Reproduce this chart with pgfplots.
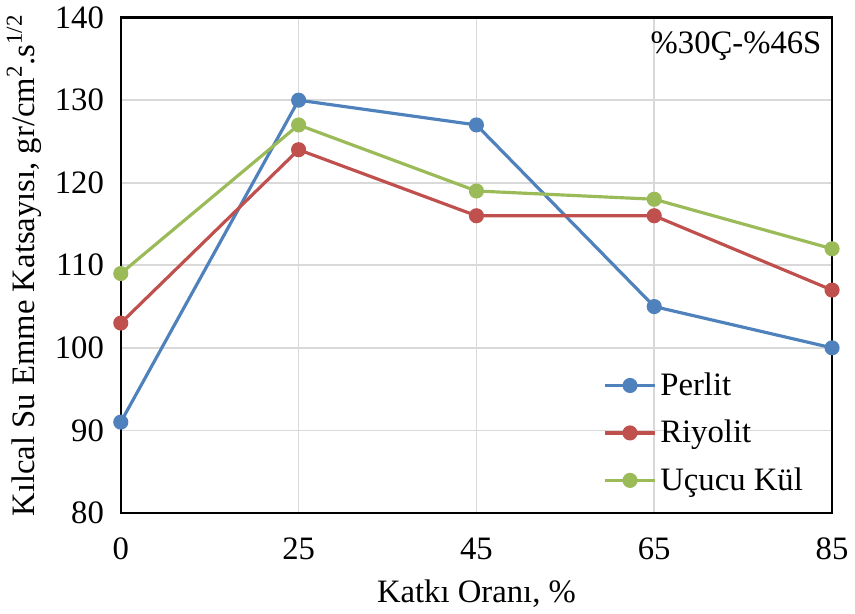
\documentclass[border=0pt]{standalone}
\usepackage{pgfplots}
\pgfplotsset{compat=1.18}
\usepackage{fontspec}
\setmainfont{Liberation Serif}
\definecolor{cblue}{HTML}{4F81BD}
\definecolor{cred}{HTML}{C0504D}
\definecolor{cgreen}{HTML}{9BBB59}
\begin{document}
\begin{tikzpicture}
\begin{axis}[
    width=359pt, height=250pt,
    scale only axis,
    font=\fontsize{16.5}{19}\selectfont,
    /pgf/number format/assume math mode=true,
    xmin=0, xmax=4, ymin=80, ymax=140,
    xtick={0,1,2,3,4},
    xticklabels={0,25,45,65,85},
    ytick={80,90,...,140},
    major tick length=0pt,
    xticklabel style={yshift=-9pt},
    yticklabel style={xshift=-5pt},
    grid=major,
    major grid style={gray!30, line width=0.8pt},
    axis line style={black, line width=1.2pt},
    clip=false,
    xlabel={Katkı Oranı, \%},
    ylabel={Kılcal Su Emme Katsayısı, gr/cm\textsuperscript{2}.s\textsuperscript{1/2}},
    xlabel style={yshift=-3pt},
    ylabel style={yshift=0pt},
    legend style={at={(0.67,0.30)}, anchor=north west, draw=none, fill=none,
        row sep=7pt, font=\fontsize{16.5}{19}\selectfont},
    legend cell align=left,
    legend image code/.code={
        \draw[#1] (0pt,0pt) -- (25pt,0pt);
        \fill[#1] (12.5pt,0pt) circle (3pt);
    },
]
\addplot[cblue, line width=1.6pt, mark=*, mark size=3pt, mark options={fill=cblue}]
    coordinates {(0,91) (1,130) (2,127) (3,105) (4,100)};
\addplot[cred, line width=1.6pt, mark=*, mark size=3pt, mark options={fill=cred}]
    coordinates {(0,103) (1,124) (2,116) (3,116) (4,107)};
\addplot[cgreen, line width=1.6pt, mark=*, mark size=3pt, mark options={fill=cgreen}]
    coordinates {(0,109) (1,127) (2,119) (3,118) (4,112)};
\legend{Perlit, Riyolit, Uçucu Kül}
\node at (axis description cs:0.865,0.943) {\%30Ç-\%46S};
\end{axis}
\end{tikzpicture}
\end{document}
